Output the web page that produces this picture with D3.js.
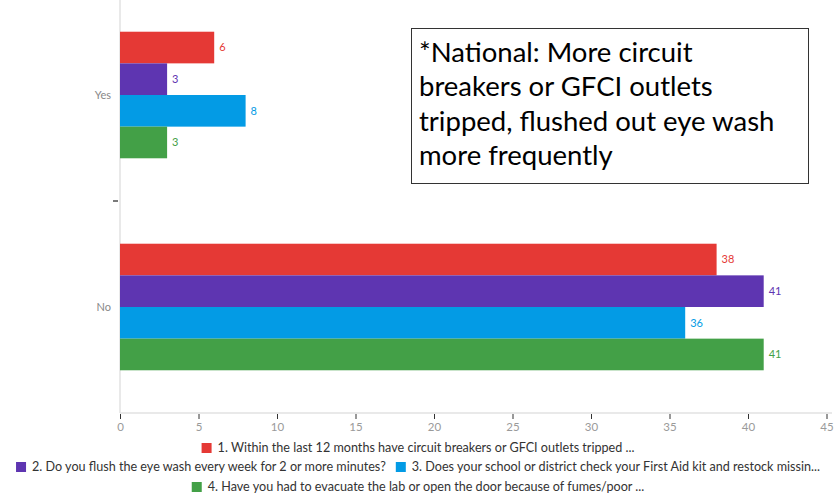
<!DOCTYPE html>
<html>
<head>
<meta charset="utf-8">
<script src="https://cdn.jsdelivr.net/npm/d3@7"></script>
<style>
  body { margin: 0; background: #fff; }
  svg { display: block; }
</style>
</head>
<body>
<svg id="chart" width="836" height="498"></svg>
<script>
// chart data
var categories = ["Yes", "No"];
var seriesNames = [
    "1. Within the last 12 months have circuit breakers or GFCI outlets tripped ...",
    "2. Do you flush the eye wash every week for 2 or more minutes?",
    "3. Does your school or district check your First Aid kit and restock missin...",
    "4. Have you had to evacuate the lab or open the door because of fumes/poor ..."
];
var yesValues = [6, 3, 8, 3];
var noValues = [38, 41, 36, 41];
var xTicks = [0, 5, 10, 15, 20, 25, 30, 35, 40, 45];
var colors = ["#e53935", "#5e35b1", "#039be5", "#43a047"];
var noteLines = [
    "*National: More circuit",
    "breakers or GFCI outlets",
    "tripped, flushed out eye wash",
    "more frequently"
];
// which legend entries share a row
var legendLayout = [[0], [1, 2], [3]];

var svg = d3.select("#chart");
var font = "Lato, 'Open Sans', sans-serif";

var x = d3.scaleLinear().domain([0, 45]).range([120, 826.5]);
var y = d3.scaleBand().domain(categories).range([-11, 413]);
var inner = d3.scaleBand().domain(d3.range(4)).range([0, y.bandwidth()]).paddingOuter(1.35);

var rows = categories.map(function(c, i) {
    return { cat: c, vals: i == 0 ? yesValues : noValues };
});

// frame lines
svg.append("line")
    .attr("x1", 120).attr("x2", 120).attr("y1", 0).attr("y2", 413)
    .attr("stroke", "#e2e2e2").attr("stroke-width", 1.5);
svg.append("line")
    .attr("x1", 120).attr("x2", 832).attr("y1", 413).attr("y2", 413)
    .attr("stroke", "#e2e2e2").attr("stroke-width", 1.5);

// separator tick between bands
svg.append("line")
    .attr("x1", 113).attr("x2", 118)
    .attr("y1", y("No")).attr("y2", y("No"))
    .attr("stroke", "#222").attr("stroke-width", 1.2);

// bars
var groups = svg.selectAll("g.row")
    .data(rows)
    .enter()
    .append("g")
    .attr("class", "row")
    .attr("transform", (d) => `translate(0,${y(d.cat)})`);

groups.selectAll("rect")
    .data((d) => d.vals)
    .enter()
    .append("rect")
    .attr("x", x(0))
    .attr("y", (d, i) => inner(i))
    .attr("width", (d) => x(d) - x(0))
    .attr("height", inner.bandwidth())
    .attr("fill", (d, i) => colors[i]);

groups.selectAll("text.val")
    .data((d) => d.vals)
    .enter()
    .append("text")
    .attr("class", "val")
    .attr("x", (d) => x(d) + 5)
    .attr("y", (d, i) => inner(i) + inner.bandwidth() / 2)
    .attr("dy", "0.35em")
    .attr("font-family", font)
    .attr("font-size", 11)
    .attr("fill", (d, i) => colors[i])
    .text((d) => d);

// category labels
svg.selectAll("text.cat")
    .data(categories)
    .enter()
    .append("text")
    .attr("class", "cat")
    .attr("x", 111)
    .attr("y", (d) => y(d) + y.bandwidth() / 2)
    .attr("dy", "0.35em")
    .attr("text-anchor", "end")
    .attr("font-family", font)
    .attr("font-size", 11)
    .attr("fill", "#888")
    .text((d) => d);

// x axis
var xAxis = d3.axisBottom(x).tickValues(xTicks).tickSize(5).tickPadding(4);
var ax = svg.append("g")
    .attr("transform", "translate(0,414)")
    .call(xAxis);
ax.select(".domain").remove();
ax.selectAll("line").attr("stroke", "#333");
ax.selectAll("text")
    .attr("font-family", font)
    .attr("font-size", 11.5)
    .attr("fill", "#9a9a9a");

// legend, rows centred
var legendY = [448, 467, 487];
var legendSize = 12.6;
legendLayout.forEach(function(idx, r) {
    var g = svg.append("g");
    var cx = 0;
    idx.forEach(function(i) {
        g.append("rect")
            .attr("x", cx).attr("y", legendY[r] - 5)
            .attr("width", 10).attr("height", 10)
            .attr("fill", colors[i]);
        var t = g.append("text")
            .attr("x", cx + 16).attr("y", legendY[r])
            .attr("dy", "0.35em")
            .attr("font-family", font)
            .attr("font-size", legendSize)
            .attr("fill", "#333")
            .text(seriesNames[i]);
        cx += 16 + t.node().getComputedTextLength() + 10;
    });
    var w = cx - 10;
    g.attr("transform", `translate(${(836 - w) / 2},0)`);
});

// annotation box
svg.append("rect")
    .attr("x", 411.5).attr("y", 28.5)
    .attr("width", 397).attr("height", 155)
    .attr("fill", "#fff")
    .attr("stroke", "#333").attr("stroke-width", 1);

svg.selectAll("text.note")
    .data(noteLines)
    .enter()
    .append("text")
    .attr("class", "note")
    .attr("x", 419)
    .attr("y", (d, i) => 62 + i * 34.3)
    .attr("font-family", "Lato, 'Open Sans', sans-serif")
    .attr("font-size", 27.5)
    .attr("fill", "#000")
    .text((d) => d);
</script>
</body>
</html>
